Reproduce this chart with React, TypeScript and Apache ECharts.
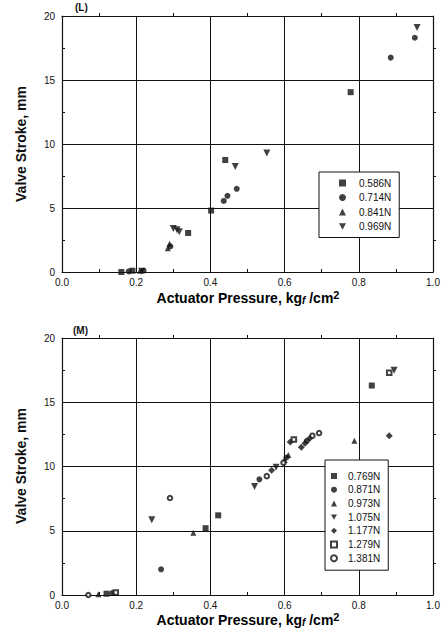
import React, { useEffect, useRef } from "react";
import * as echarts from "echarts";

// ---- Top panel (L) ----
const topNames = ["0.586N", "0.714N", "0.841N", "0.969N"];
const top586: number[][] = [[0.16, 0.0], [0.19, 0.1], [0.34, 3.05], [0.402, 4.8], [0.44, 8.75], [0.778, 14.05]];
const top714: number[][] = [[0.18, 0.05], [0.22, 0.1], [0.292, 2.0], [0.436, 5.55], [0.446, 5.95], [0.471, 6.5], [0.886, 16.75], [0.951, 18.3]];
const top841: number[][] = [[0.21, 0.1], [0.285, 1.85], [0.29, 2.2]];
const top969: number[][] = [[0.215, 0.05], [0.3, 3.4], [0.31, 3.3], [0.316, 3.15], [0.467, 8.25], [0.552, 9.3], [0.957, 19.1]];

// ---- Bottom panel (M) ----
const botNames = ["0.769N", "0.871N", "0.973N", "1.075N", "1.177N", "1.279N", "1.381N"];
const bot769: number[][] = [[0.12, 0.1], [0.387, 5.2], [0.421, 6.2], [0.835, 16.3]];
const bot871: number[][] = [[0.135, 0.15], [0.267, 2.0], [0.532, 9.0], [0.605, 10.7], [0.66, 12.0]];
const bot973: number[][] = [[0.098, 0.05], [0.354, 4.85], [0.6, 10.5], [0.61, 10.9], [0.788, 12.0]];
const bot1075: number[][] = [[0.242, 5.85], [0.519, 8.45], [0.577, 9.95], [0.895, 17.5]];
const bot1177: number[][] = [[0.565, 9.7], [0.615, 11.9], [0.645, 11.5], [0.655, 11.8], [0.668, 12.2], [0.882, 12.4]];
const bot1279: number[][] = [[0.145, 0.2], [0.625, 12.1], [0.882, 17.3]];
const bot1381: number[][] = [[0.071, 0.0], [0.291, 7.55], [0.552, 9.25], [0.597, 10.3], [0.675, 12.4], [0.693, 12.6]];

const xTicks = ["0.0", "0.2", "0.4", "0.6", "0.8", "1.0"];
const yTicks = ["0", "5", "10", "15", "20"];

const FONT = "Liberation Sans, Arial, sans-serif";
const BLACK = "#111";
const DOWN_TRI = "path://M0,0L10,0L5,9Z";

function mainX(gridIndex: number) {
  return {
    type: "value", gridIndex, min: 0, max: 1, interval: 0.2, position: "bottom",
    axisLine: { show: true, onZero: false, lineStyle: { color: BLACK, width: 1.2 } },
    axisTick: { show: true, inside: true, length: 3, lineStyle: { color: BLACK } },
    minorTick: { show: true, splitNumber: 2, length: 3, lineStyle: { color: BLACK } },
    splitLine: { show: true, lineStyle: { color: BLACK, width: 1 } },
    axisLabel: {
      margin: 5, fontSize: 10, color: BLACK, fontFamily: FONT,
      formatter: (v: number) => xTicks[Math.round(v / 0.2)] ?? "",
    },
  };
}
function mirrorX(gridIndex: number) {
  return {
    type: "value", gridIndex, min: 0, max: 1, interval: 0.2, position: "top",
    axisLine: { show: true, onZero: false, lineStyle: { color: BLACK, width: 1.2 } },
    axisTick: { show: false },
    minorTick: { show: true, splitNumber: 2, length: 3, lineStyle: { color: BLACK } },
    splitLine: { show: false },
    axisLabel: { show: false },
  };
}
function mainY(gridIndex: number) {
  return {
    type: "value", gridIndex, min: 0, max: 20, interval: 5, position: "left",
    axisLine: { show: true, onZero: false, lineStyle: { color: BLACK, width: 1.2 } },
    axisTick: { show: true, inside: true, length: 3, lineStyle: { color: BLACK } },
    minorTick: { show: true, splitNumber: 2, length: 3, lineStyle: { color: BLACK } },
    splitLine: { show: true, lineStyle: { color: BLACK, width: 1 } },
    axisLabel: {
      margin: 7, fontSize: 10, color: BLACK, fontFamily: FONT,
      formatter: (v: number) => yTicks[Math.round(v / 5)] ?? "",
    },
  };
}
function mirrorY(gridIndex: number) {
  return {
    type: "value", gridIndex, min: 0, max: 20, interval: 5, position: "right",
    axisLine: { show: true, onZero: false, lineStyle: { color: BLACK, width: 1.2 } },
    axisTick: { show: false },
    minorTick: { show: true, splitNumber: 2, length: 3, lineStyle: { color: BLACK } },
    splitLine: { show: false },
    axisLabel: { show: false },
  };
}

function scatter(name: string, data: number[][], panel: number, symbol: string, rotate = 0, size = 6) {
  const empty = symbol.startsWith("empty");
  return {
    type: "scatter", name, data,
    xAxisIndex: panel * 2, yAxisIndex: panel * 2,
    symbol, symbolRotate: rotate, symbolSize: size,
    itemStyle: empty
      ? { color: BLACK, borderColor: BLACK, borderWidth: 0.9 }
      : { color: BLACK },
    z: 5,
  };
}

export default function App() {
  const ref = useRef<HTMLDivElement>(null);
  useEffect(() => {
    if (!ref.current) return;
    const chart = echarts.init(ref.current, undefined, { renderer: "svg" });
    const titleRich = {
      b: { fontSize: 14, fontWeight: "bold", fontFamily: FONT, color: BLACK },
      s: { fontSize: 10, fontWeight: "bold", fontStyle: "italic", fontFamily: FONT, color: BLACK, padding: [5, 0, 0, 0] },
      p: { fontSize: 11, fontWeight: "bold", fontFamily: FONT, color: BLACK, padding: [0, 0, 6, 0] },
    };
    const xTitle = (y: number) => ({
      type: "text", x: 248, y,
      style: {
        text: "{b|Actuator Pressure, kg}{s|f}{b| /cm}{p|2}",
        rich: titleRich, align: "center", verticalAlign: "middle",
      },
    });
    const yTitle = (cy: number) => ({
      type: "text", x: 21, y: cy, rotation: Math.PI / 2,
      style: {
        text: "Valve Stroke, mm", fontSize: 14, fontWeight: "bold", fontFamily: FONT, fill: BLACK,
        align: "center", verticalAlign: "middle",
      },
    });
    const legendCommon = {
      orient: "vertical", show: true,
      borderColor: BLACK, borderWidth: 1, backgroundColor: "#fff",
      itemWidth: 7, itemHeight: 7, selectedMode: false,
      textStyle: { fontSize: 10, fontFamily: FONT, color: BLACK, lineHeight: 12 },
    };
    const legendData = (names: string[], downIdx: number, emptyIdx: number[]) =>
      names.map((n, i) => {
        if (i === downIdx) return { name: n, icon: DOWN_TRI };
        if (emptyIdx.includes(i)) return { name: n, itemStyle: { borderWidth: 0.9 } };
        return { name: n };
      });
    chart.setOption({
      animation: false,
      backgroundColor: "#fff",
      grid: [
        { left: 62, top: 16, width: 371, height: 256 },
        { left: 62, top: 338, width: 371, height: 257 },
      ],
      xAxis: [mainX(0), mirrorX(0), mainX(1), mirrorX(1)],
      yAxis: [mainY(0), mirrorY(0), mainY(1), mirrorY(1)],
      legend: [
        {
          ...legendCommon, data: legendData(topNames, 3, []), left: 319, top: 172,
          padding: [5, 8, 5, 20], itemGap: 2.5,
          textStyle: { ...legendCommon.textStyle, padding: [0, 0, 0, 8] },
        },
        {
          ...legendCommon, data: legendData(botNames, 3, [5, 6]), left: 325, top: 460,
          padding: [10, 8, 6, 5], itemGap: 1.7, itemWidth: 6, itemHeight: 6,
          textStyle: { ...legendCommon.textStyle, padding: [0, 0, 0, 6] },
        },
      ],
      series: [
        scatter(topNames[0], top586, 0, "rect"),
        scatter(topNames[1], top714, 0, "circle"),
        scatter(topNames[2], top841, 0, "triangle"),
        scatter(topNames[3], top969, 0, "triangle", 180, 7),
        scatter(botNames[0], bot769, 1, "rect"),
        scatter(botNames[1], bot871, 1, "circle"),
        scatter(botNames[2], bot973, 1, "triangle"),
        scatter(botNames[3], bot1075, 1, "triangle", 180, 7),
        scatter(botNames[4], bot1177, 1, "diamond", 0, 7),
        scatter(botNames[5], bot1279, 1, "emptyRect", 0, 4.5),
        scatter(botNames[6], bot1381, 1, "emptyCircle", 0, 4.5),
      ],
      graphic: [
        { type: "text", left: 75, top: 2, style: { text: "(L)", fontSize: 10, fontWeight: "bold", fontFamily: FONT, fill: BLACK } },
        { type: "text", left: 73, top: 325, style: { text: "(M)", fontSize: 10, fontWeight: "bold", fontFamily: FONT, fill: BLACK } },
        xTitle(298),
        xTitle(620),
        yTitle(144),
        yTitle(466),
      ],
    } as any);
    return () => chart.dispose();
  }, []);
  return <div ref={ref} style={{ width: 448, height: 634, position: "absolute", left: 0, top: 0 }} />;
}
